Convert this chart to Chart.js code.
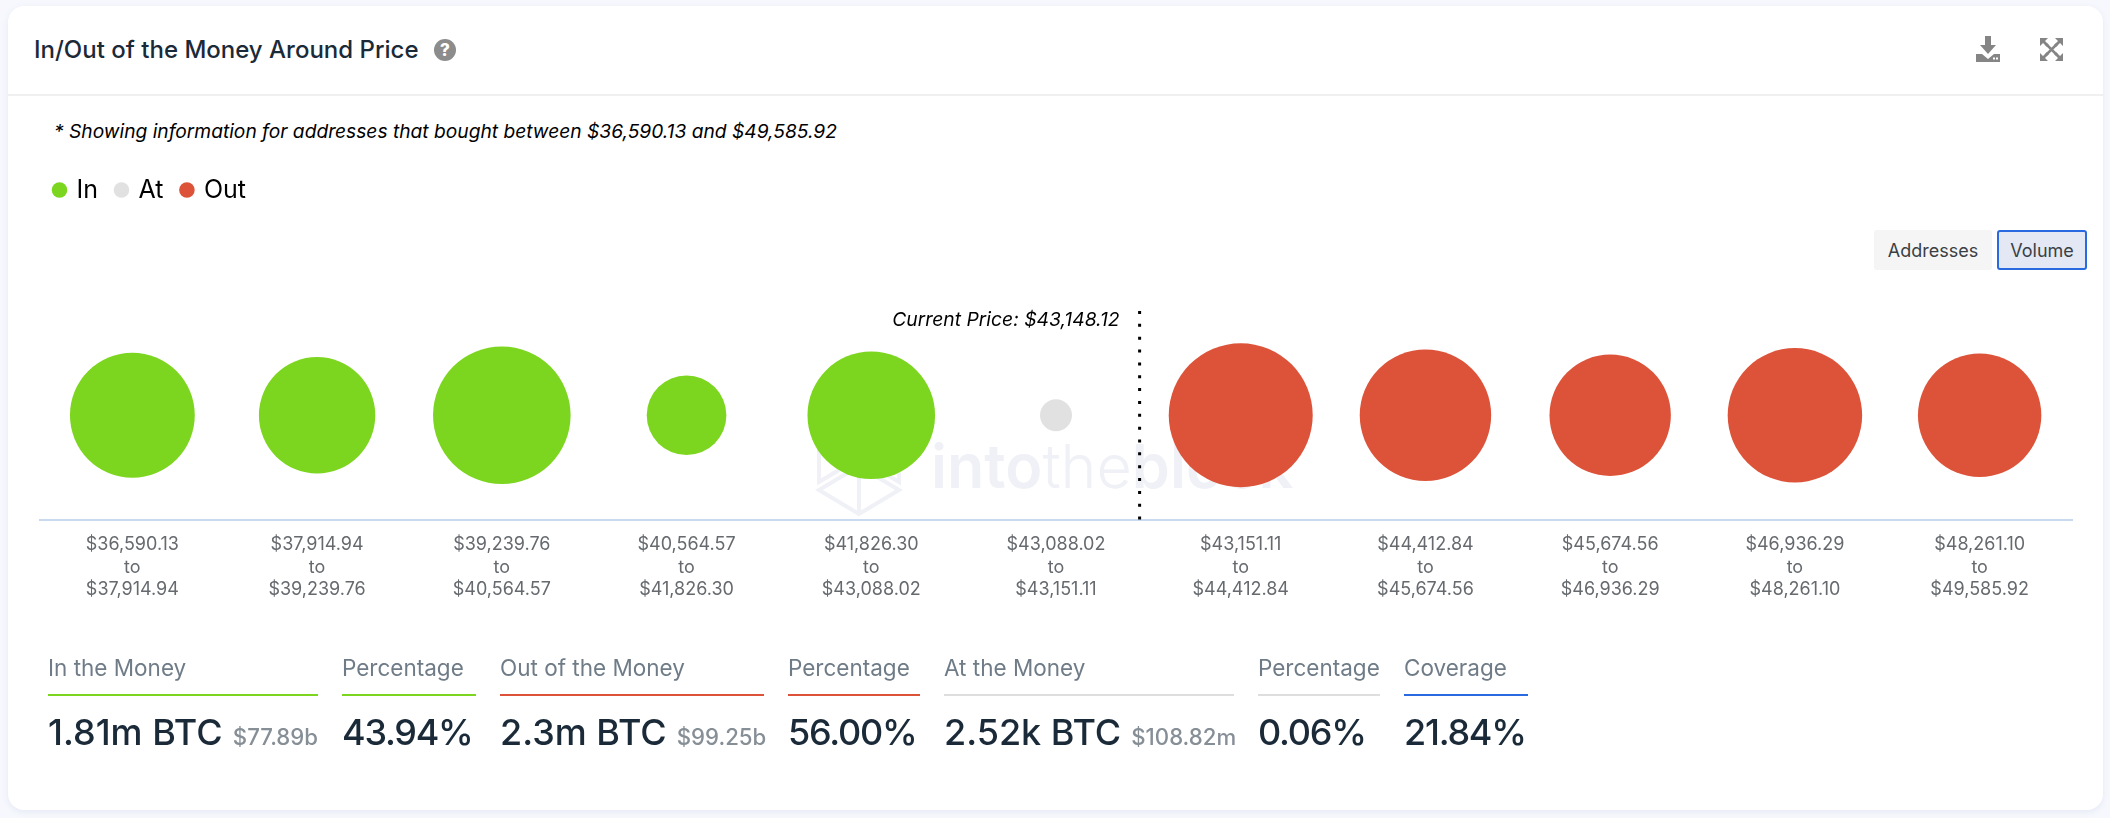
<!DOCTYPE html>
<html><head><meta charset="utf-8">
<style>
html,body{margin:0;padding:0;width:2110px;height:818px;overflow:hidden;background:#f6f8fd;font-family:Inter,sans-serif}
.card{position:absolute;left:8px;top:6px;width:2095px;height:804px;background:#fff;border-radius:16px;box-shadow:0 2px 6px rgba(90,110,170,.10)}
.hr{position:absolute;left:8px;top:94px;width:2095px;height:2px;background:#f0f0f0}
.t{position:absolute;white-space:nowrap;line-height:1}
#title{left:34px;top:38px;font-size:24px;font-weight:500;color:#1b2a38}
#note{left:54px;top:122px;font-size:19.2px;font-style:italic;color:#000}
.btn{position:absolute;top:230px;height:40px;box-sizing:border-box;border-radius:3px;font-size:18px;color:#3a3f45;display:flex;align-items:center;justify-content:center}
#b1{left:1874px;width:118px;background:#f5f5f5}
#b2{left:1997px;width:90px;background:#e3e8f4;border:2px solid #2a6ae0}
#wm{left:931px;top:436px;font-size:61px;color:#eff1f7;font-weight:600}
#wm span{font-weight:300}
svg.abs{position:absolute;overflow:visible}
canvas{position:absolute;left:0;top:0}
.lab{position:absolute;top:657px;font-size:22.5px;line-height:22px;color:#6f7c87;white-space:nowrap}
.rule{position:absolute;top:694px;height:2px}
.val{position:absolute;top:711px;font-size:36px;line-height:42px;font-weight:500;color:#1b2a38;white-space:nowrap}
.val small{font-size:22.2px;color:#868e96;font-weight:500;margin-left:10px}
.val .pct{letter-spacing:-1.25px}
</style></head>
<body>
<div class="card"></div><div class="hr"></div>
<div class="t" id="title">In/Out of the Money Around Price</div>
<svg class="abs" style="left:434px;top:39px" width="22" height="22" viewBox="0 0 22 22"><circle cx="11" cy="11" r="11" fill="#8c8c8c"/><text x="11" y="17" text-anchor="middle" font-family="Inter" font-weight="800" font-size="17" fill="#fff">?</text></svg>
<svg class="abs" style="left:1976px;top:36px" width="24" height="26" viewBox="0 0 24 26" fill="#858585"><path d="M9 0h6v9h5l-8 9-8-9h5z"/><path d="M0 18h6l6 5 6-5h6v8H0z"/><rect x="17" y="21.5" width="2" height="2" fill="#fff"/><rect x="20" y="21.5" width="2" height="2" fill="#fff"/></svg>
<svg class="abs" style="left:2040px;top:38px" width="23" height="23" viewBox="0 0 23 23" fill="#858585" stroke="none"><path d="M0 0h8l-3 3 4 4-2 2-4-4-3 3zM23 0v8l-3-3-4 4-2-2 4-4-3-3zM0 23v-8l3 3 4-4 2 2-4 4 3 3zM23 23h-8l3-3-4-4 2-2 4 4 3-3z"/><path d="M6 6l11 11M17 6L6 17" stroke="#858585" stroke-width="2.5"/></svg>
<div class="t" id="note">* Showing information for addresses that bought between $36,590.13 and $49,585.92</div>
<div class="btn" id="b1">Addresses</div><div class="btn" id="b2">Volume</div>
<div class="t" id="wm">into<span>the</span>block</div>
<svg class="abs" style="left:817px;top:440px" width="84" height="76" viewBox="0 0 84 76" fill="none" stroke="#eff1f7" stroke-width="4"><path d="M42 74L2 50l40-24 40 24zM42 26v48M2 6v36l20-12M82 6v36L62 30"/></svg>
<canvas id="chart" width="2110" height="818"></canvas>
<div id="stats"></div>
<script src="https://cdn.jsdelivr.net/npm/chart.js@4"></script>
<script>
const priceEdges = [36590.13,37914.94,39239.76,40564.57,41826.30,43088.02,43151.11,44412.84,45674.56,46936.29,48261.10,49585.92];
const inVolume  = [405000,352000,492000,165000,423000,null,null,null,null,null,null];
const atVolume  = [null,null,null,null,null,2520,null,null,null,null,null];
const outVolume = [null,null,null,null,null,null,539000,449000,383000,470000,396000];
const currentPrice = 43148.12;
const seriesNames = ['In','At','Out'];
const seriesColors = ['#7cd51f','#e1e1e1','#dc5339'];
const statLabels = ['In the Money','Percentage','Out of the Money','Percentage','At the Money','Percentage','Coverage'];
const statValues = ['1.81m BTC','43.94%','2.3m BTC','56.00%','2.52k BTC','0.06%','21.84%'];
const statSubs   = ['$77.89b','','$99.25b','','$108.82m','',''];
const statLefts  = [48,342,500,788,944,1258,1404];
const statRights = [318,476,764,920,1234,1380,1528];
const statColors = ['#7cd51f','#7cd51f','#dc5339','#dc5339','#dedede','#dedede','#2a6ae0'];

const money = v => '$' + v.toLocaleString('en-US',{minimumFractionDigits:2,maximumFractionDigits:2});
const labels = priceEdges.slice(0,-1).map((p,i)=>[money(p),'to',money(priceEdges[i+1])]);
const radius = v => Math.max(16, Math.sqrt(v/104));
const points = arr => arr.map((v,i)=> v===null ? null : {x:labels[i], y:0.5, r:radius(v)}).filter(Boolean);

const stats = document.getElementById('stats');
statLabels.forEach((l,i)=>{
  const L=statLefts[i], W=statRights[i]-L;
  const cls = statValues[i].endsWith('%') ? 'pct' : '';
  stats.insertAdjacentHTML('beforeend',
    `<div class="lab" style="left:${L}px">${l}</div>`+
    `<div class="rule" style="left:${L}px;width:${W}px;background:${statColors[i]}"></div>`+
    `<div class="val" style="left:${L}px;width:${W}px;display:flex;justify-content:space-between;align-items:baseline"><span class="${cls}">${statValues[i]}</span>${statSubs[i]?`<small>${statSubs[i]}</small>`:''}</div>`);
});

const priceMarker = {
  id:'priceMarker',
  afterLayout(chart){ chart.legend.left = 36; chart.legend.top = 158.5; },
  afterDatasetsDraw(chart){
    const {ctx, chartArea:a, scales:{x}} = chart;
    const b = priceEdges.findIndex((p,i)=> currentPrice>=p && currentPrice<priceEdges[i+1]);
    const frac = (currentPrice-priceEdges[b])/(priceEdges[b+1]-priceEdges[b]);
    const px = x.getPixelForValue(b-0.5+frac);
    ctx.save();
    ctx.strokeStyle='#000'; ctx.lineWidth=3; ctx.setLineDash([3,9.85]);
    ctx.beginPath(); ctx.moveTo(px,a.top); ctx.lineTo(px,a.bottom); ctx.stroke();
    ctx.setLineDash([]);
    ctx.fillStyle='#000'; ctx.font='italic 19.3px Inter'; ctx.textAlign='right'; ctx.textBaseline='middle';
    ctx.fillText('Current Price: '+money(currentPrice), px-20, a.top+9);
    ctx.restore();
  }
};

new Chart(document.getElementById('chart'),{
  type:'bubble',
  data:{labels, datasets:[inVolume,atVolume,outVolume].map((arr,i)=>({
    label:seriesNames[i], data:points(arr), backgroundColor:seriesColors[i], borderWidth:0, hoverBorderWidth:0, pointStyle:'circle'
  }))},
  options:{
    responsive:false, animation:false, events:[],
    layout:{autoPadding:false,padding:{left:40,right:38,top:257,bottom:203}},
    scales:{
      x:{type:'category',offset:true,grid:{display:false,drawTicks:false},border:{display:true,color:'#c9d9ef',width:2},
         ticks:{color:'#666a6e',font:{family:'Inter',size:18,lineHeight:1.25},padding:14,maxRotation:0,autoSkip:false}},
      y:{display:false,min:0,max:1}
    },
    plugins:{
      tooltip:{enabled:false},
      legend:{display:true,position:'top',align:'start',
        labels:{usePointStyle:true,boxHeight:11,boxWidth:9,padding:19,color:'#000',font:{family:'Inter',size:25}}}
    }
  },
  plugins:[priceMarker]
});
</script>
</body></html>
